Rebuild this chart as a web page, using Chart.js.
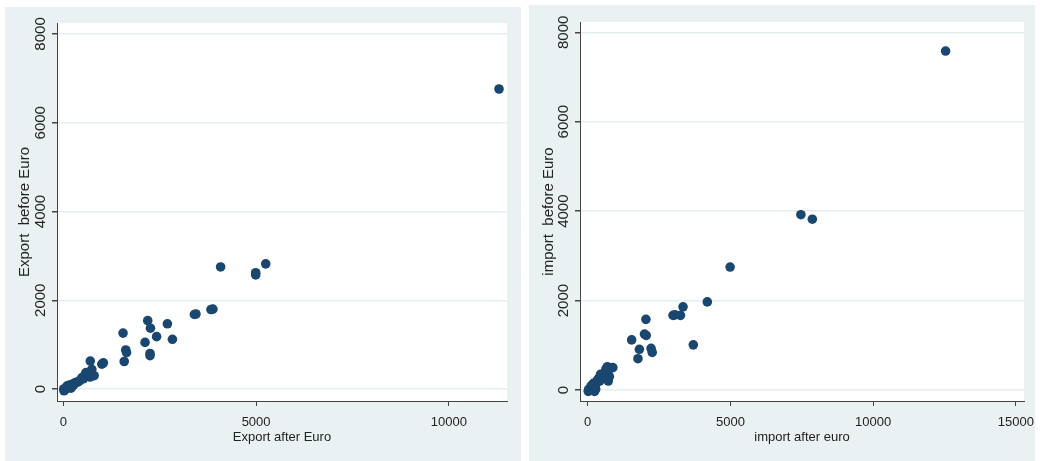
<!DOCTYPE html>
<html>
<head>
<meta charset="utf-8">
<script src="https://cdn.jsdelivr.net/npm/chart.js@4.4.0/dist/chart.umd.min.js"></script>
<style>
  body { margin: 0; background: #fff; width: 1040px; height: 461px; position: relative; overflow: hidden; }
  .panel { position: absolute; background: #eaf1f3; }
  .panel canvas { display: block; }
  #export-panel { left: 5px; top: 7px; width: 516px; height: 454px; }
  #import-panel { left: 529px; top: 5px; width: 506px; height: 456px; }
</style>
</head>
<body>
<div class="panel" id="export-panel"><canvas id="export-chart" width="516" height="454"></canvas></div>
<div class="panel" id="import-panel"><canvas id="import-chart" width="506" height="456"></canvas></div>
<script>
// Export: after euro (x) vs before euro (y)
const exportAfter = [
  11300, 4080, 4990, 4990, 5250, 3830, 3880, 3400, 3440, 2190, 2260, 2700,
  1550, 2420, 2120, 2830, 1620, 1640, 2250, 2250, 1580, 1000, 1040, 700,
  740, 800, 690, 590, 650, 560, 520, 480, 430, 380, 340, 300, 260, 220,
  180, 160, 120, 90, 60, 40, 20, 10, 140, 200, 250, 100,
];
const exportBefore = [
  6760, 2750, 2620, 2570, 2820, 1790, 1800, 1680, 1690, 1540, 1370, 1470,
  1260, 1180, 1050, 1120, 880, 820, 800, 750, 620, 560, 590, 630,
  440, 300, 270, 370, 330, 320, 230, 250, 190, 160, 150, 140, 80, 100,
  60, 90, 40, 20, 10, -20, -40, 0, 30, 20, 110, 70,
];

// Import: after euro (x) vs before euro (y)
const importAfter = [
  12540, 7470, 7870, 4990, 4190, 3340, 2990, 3060, 3250, 2040, 1990, 2050,
  1540, 3700, 1810, 1760, 2220, 2260,
  880, 690, 640, 720, 760, 700, 550, 600, 500, 450, 380, 420, 330, 300,
  250, 200, 160, 240, 280, 100, 60, 20, 30, 130, 180,
];
const importBefore = [
  7580, 3920, 3820, 2750, 1970, 1860, 1670, 1680, 1670, 1580, 1250, 1220,
  1120, 1010, 910, 700, 930, 840,
  500, 520, 470, 200, 300, 380, 330, 400, 280, 350, 260, 200, 210, 150,
  120, 150, 80, -30, 20, 50, 20, -30, 10, 100, 20,
];

const yTicks = [0, 2000, 4000, 6000, 8000];
const exportXTicks = [0, 5000, 10000];
const importXTicks = [0, 5000, 10000, 15000];

const family = "'Liberation Sans', Arial, sans-serif";
const xFont = { family, size: 13 };
const yFont = { family, size: 15 };
const axisColor = "#444";
const textColor = "#222";

// white plot region inside the light panel
const plotBg = {
  id: "plotBg",
  beforeDraw(chart) {
    const { ctx, chartArea: a } = chart;
    ctx.save();
    ctx.fillStyle = "#fff";
    ctx.fillRect(a.left, a.top, a.right - a.left, a.bottom - a.top);
    ctx.restore();
  },
};

const scatterChart = (id, xs, ys, cfg) =>
  new Chart(document.getElementById(id), {
    type: "scatter",
    plugins: [plotBg],
    options: {
      responsive: false,
      animation: false,
      layout: { padding: cfg.padding, autoPadding: false },
      plugins: { legend: { display: false }, tooltip: { enabled: false } },
      scales: {
        x: {
          type: "linear",
          min: cfg.xMin,
          max: cfg.xMax,
          afterBuildTicks: (s) => { s.ticks = cfg.xTicks.map((v) => ({ value: v })); },
          afterFit: (s) => {
            s.height = 60;
            s.paddingLeft = 0;
            s.paddingRight = 0;
          },
          grid: { drawOnChartArea: false, tickColor: axisColor, tickLength: 5 },
          border: { color: axisColor, width: 1 },
          ticks: { color: textColor, font: xFont, padding: 9, maxRotation: 0, callback: (v) => String(v) },
          title: { display: true, text: cfg.xTitle, color: textColor, font: xFont, padding: { top: 0, bottom: 16 } },
        },
        y: {
          min: cfg.yMin,
          max: cfg.yMax,
          afterBuildTicks: (s) => { s.ticks = yTicks.map((v) => ({ value: v })); },
          afterFit: (s) => {
            s.width = cfg.yWidth;
            s.paddingTop = 0;
            s.paddingBottom = 0;
          },
          grid: { color: "#e4edf0", lineWidth: 1.5, tickColor: axisColor, tickLength: 5 },
          border: { color: axisColor, width: 1 },
          ticks: { color: textColor, font: yFont, padding: -6, minRotation: 90, maxRotation: 90, crossAlign: "center", callback: (v) => String(v) },
          title: { display: true, text: cfg.yTitle, color: textColor, font: yFont, padding: { top: 11, bottom: 0 } },
        },
      },
    },
    data: {
      datasets: [
        {
          data: xs.map((x, i) => ({ x: x, y: ys[i] })),
          backgroundColor: "#1a476f",
          borderWidth: 0,
          pointRadius: 4.8,
        },
      ],
    },
  });

scatterChart("export-chart", exportAfter, exportBefore, {
  xTicks: exportXTicks,
  xMin: -163, xMax: 11507,
  yMin: -270, yMax: 8247,
  yWidth: 52,
  padding: { left: 0, top: 16, right: 14, bottom: 0 },
  xTitle: "Export after Euro",
  yTitle: "Export  before Euro",
});

scatterChart("import-chart", importAfter, importBefore, {
  xTicks: importXTicks,
  xMin: -270, xMax: 15287,
  yMin: -246, yMax: 8230,
  yWidth: 51,
  padding: { left: 0, top: 17, right: 11, bottom: 0 },
  xTitle: "import after euro",
  yTitle: "import  before Euro",
});
</script>
</body>
</html>
